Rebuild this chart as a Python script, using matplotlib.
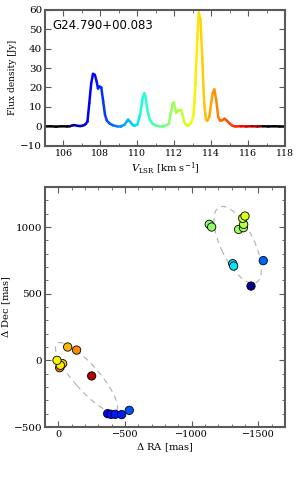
import numpy as np
import matplotlib
matplotlib.use("Agg")
import matplotlib.pyplot as plt
from matplotlib.collections import LineCollection
from matplotlib.patches import Ellipse
from matplotlib.ticker import MultipleLocator

plt.rcParams['font.family'] = ['DejaVu Serif']
plt.rcParams['mathtext.fontset'] = 'dejavuserif'

# ---- spectrum data ----
velocity = [105.0, 105.3, 105.6, 105.9, 106.2, 106.35, 106.5, 106.6, 106.75, 106.9, 107.0,
            107.1, 107.2, 107.3, 107.4, 107.5, 107.6, 107.7, 107.8, 107.87, 107.95,
            108.05, 108.15, 108.25, 108.35, 108.5, 108.7, 108.9, 109.1, 109.3, 109.5,
            109.6, 109.75, 109.85, 110.0, 110.15, 110.3, 110.38, 110.45, 110.55, 110.7,
            110.85, 111.0, 111.2, 111.4, 111.55, 111.7, 111.82, 111.92, 111.98, 112.05,
            112.12, 112.22, 112.35, 112.45, 112.55, 112.65, 112.75, 112.85, 112.95, 113.05,
            113.15, 113.25, 113.33, 113.42, 113.52, 113.62, 113.72, 113.8, 113.9, 114.0,
            114.08, 114.17, 114.27, 114.38, 114.48, 114.6, 114.72, 114.85, 115.0, 115.15,
            115.3, 115.6, 115.9, 116.2, 116.5, 116.8, 117.1, 117.4, 117.7, 118.0]
flux = [0.0, 0.1, -0.1, 0.1, 0.0, 0.1, 0.6, 0.7, 0.3, 0.2, 0.3,
        0.6, 1.2, 2.5, 12.0, 22.0, 27.0, 26.5, 23.0, 19.5, 20.5,
        20.0, 13.0, 6.0, 3.0, 1.5, 0.5, 0.1, 0.1, 0.8, 3.5,
        2.5, 0.8, 0.3, 1.0, 6.0, 15.0, 17.0, 15.0, 8.0, 3.0,
        1.2, 0.5, 0.2, 0.2, 0.6, 1.2, 7.0, 12.0, 12.3, 9.0,
        7.0, 8.5, 8.5, 6.0, 2.0, 0.8, 0.4, 1.2, 2.5, 6.0,
        22.0, 45.0, 58.5, 55.0, 35.0, 12.0, 3.5, 3.0, 5.0, 12.0,
        17.0, 19.0, 14.0, 5.0, 3.0, 3.2, 4.0, 3.0, 1.5, 0.4,
        0.0, 0.1, 0.0, 0.1, 0.0, 0.1, 0.0, 0.1, 0.0, 0.0]

# ---- maser spots ----
spot_ra = [-1132, -1150, -1352, -1388, -1390, -1383, -1400,
           -1308, -1315, -1537, -1445,
           -70, -137, -10, -32, -15, 10, -250,
           -370, -395, -427, -475, -532]
spot_dec = [1020, 1000, 982, 995, 1020, 1065, 1082,
            725, 707, 748, 557,
            100, 77, -55, -25, -37, 0, -117,
            -400, -405, -405, -407, -375]
spot_vel = [111.7, 111.8, 112.0, 112.1, 112.2, 112.5, 112.7,
            109.9, 110.0, 108.7, 106.5,
            113.8, 114.3, 114.5, 113.7, 113.2, 113.1, 116.3,
            107.7, 107.8, 107.9, 107.95, 108.5]

# ellipses: (ra, dec, major, minor, angle)
ell_ra = [-211, -1345]
ell_dec = [-127, 866]
ell_major = [672, 630]
ell_minor = [190, 250]
ell_angle = [48.8, 64.0]

vmin, vmax = 106.35, 116.75
cmap = plt.get_cmap('jet')
norm = plt.Normalize(vmin, vmax)

spine_col = '#5a5a5a'

fig = plt.figure(figsize=(3.0, 4.8), dpi=100)
ax1 = fig.add_axes([0.15, 0.696, 0.8, 0.284])
ax2 = fig.add_axes([0.15, 0.1104, 0.8, 0.5])

# spectrum coloured line
v = np.array(velocity)
f = np.array(flux)
pts = np.column_stack([v, f]).reshape(-1, 1, 2)
segs = np.concatenate([pts[:-1], pts[1:]], axis=1)
mids = 0.5 * (v[:-1] + v[1:])
cols = []
for m in mids:
    if m < vmin or m > vmax:
        cols.append((0, 0, 0, 1))
    else:
        cols.append(cmap(norm(m)))
lc = LineCollection(segs, colors=cols, linewidths=1.8, capstyle='round', joinstyle='round')
ax1.add_collection(lc)
ax1.set_xlim(105, 118)
ax1.set_ylim(-10, 60)
ax1.xaxis.set_major_locator(MultipleLocator(2))
ax1.xaxis.set_minor_locator(MultipleLocator(1))
ax1.yaxis.set_major_locator(MultipleLocator(10))
ax1.set_xlabel(r'$V_{\rm LSR}$ [km s$^{-1}$]', fontsize=7.2, labelpad=2)
ax1.set_ylabel('Flux density [Jy]', fontsize=6.5)
ax1.yaxis.set_label_coords(-0.117, 0.5)
ax1.text(0.03, 0.93, 'G24.790+00.083', transform=ax1.transAxes, fontsize=8.5,
         family='DejaVu Sans', va='top', ha='left')

# spots map
for i in range(len(ell_ra)):
    e = Ellipse((ell_ra[i], ell_dec[i]), ell_major[i], ell_minor[i], angle=ell_angle[i],
                fill=False, ec='#b0b0b0', lw=0.8, ls=(0, (5, 4)), zorder=1)
    ax2.add_patch(e)
ax2.scatter(spot_ra, spot_dec, c=spot_vel, cmap=cmap, norm=norm, s=36,
            edgecolors='black', linewidths=0.6, zorder=3)
ax2.set_xlim(100, -1700)
ax2.set_ylim(-500, 1300)
ax2.xaxis.set_major_locator(MultipleLocator(500))
ax2.xaxis.set_minor_locator(MultipleLocator(100))
ax2.yaxis.set_major_locator(MultipleLocator(500))
ax2.yaxis.set_minor_locator(MultipleLocator(100))
ax2.set_xlabel(r'$\Delta$ RA [mas]', fontsize=7.2, labelpad=2)
ax2.set_ylabel(r'$\Delta$ Dec [mas]', fontsize=7.2)
ax2.yaxis.set_label_coords(-0.133, 0.5)

for ax in (ax1, ax2):
    for s in ax.spines.values():
        s.set_color(spine_col)
        s.set_linewidth(1.5)
    ax.tick_params(which='both', direction='in', top=True, right=True,
                   color=spine_col, pad=2)
    ax.tick_params(which='major', length=4, width=0.8)
    ax.tick_params(which='minor', length=2, width=0.6)
    ax.tick_params(axis='y', labelsize=7.5)

ax1.tick_params(axis='x', labelsize=6.8)
ax2.tick_params(axis='x', labelsize=7)

fig.savefig('out.png', dpi=100)
